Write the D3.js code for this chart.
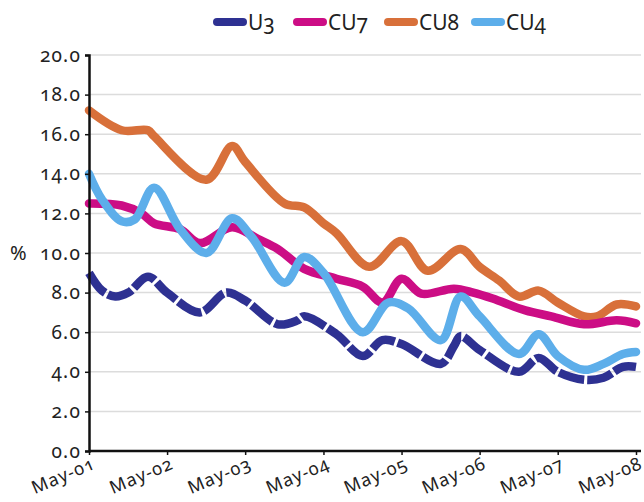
<!DOCTYPE html>
<html>
<head>
<meta charset="utf-8">
<script src="https://cdn.jsdelivr.net/npm/d3@7"></script>
<style>
body { margin: 0; background: #fff; }
text { font-family: "Noto Sans", "Open Sans", sans-serif; fill: #222; font-feature-settings: "onum"; }
</style>
</head>
<body>
<svg width="644" height="502"></svg>
<script>
var u3Dates = ["2001-05","2001-07","2001-09","2001-11","2002-02","2002-05","2002-10","2003-02","2003-05","2003-10","2004-01","2004-02","2004-07","2004-11","2005-02","2005-05","2005-11","2006-01","2006-02","2006-05","2006-11","2007-02","2007-05","2007-09","2007-12","2008-03","2008-05"];
var u3Values = [9.0,8.1,7.8,8.0,8.8,8.0,7.0,8.0,7.6,6.4,6.6,6.8,5.9,4.8,5.6,5.4,4.4,5.3,5.8,5.1,4.0,4.7,4.0,3.6,3.7,4.25,4.25];

var cu7Dates = ["2001-05","2001-10","2002-01","2002-03","2002-07","2002-10","2003-03","2003-07","2003-10","2004-02","2004-07","2004-11","2005-02","2005-05","2005-08","2006-01","2006-04","2006-07","2006-12","2007-04","2007-09","2008-02","2008-05"];
var cu7Values = [12.5,12.4,12.0,11.5,11.2,10.5,11.3,10.7,10.2,9.2,8.7,8.3,7.5,8.7,7.95,8.2,8.0,7.7,7.1,6.8,6.4,6.6,6.45];

var cu8Dates = ["2001-05","2001-10","2002-02","2002-03","2002-11","2003-03","2003-05","2003-11","2004-02","2004-05","2004-07","2004-12","2005-05","2005-09","2006-02","2006-05","2006-08","2006-11","2007-02","2007-05","2007-09","2007-11","2008-02","2008-05"];
var cu8Values = [17.2,16.2,16.2,15.9,13.7,15.4,14.6,12.5,12.3,11.5,11.0,9.3,10.6,9.1,10.2,9.3,8.6,7.8,8.1,7.5,6.8,6.8,7.4,7.3];

var cu4Dates = ["2001-05","2001-07","2001-10","2001-12","2002-03","2002-07","2002-11","2003-03","2003-06","2003-11","2004-02","2004-05","2004-11","2005-03","2005-06","2005-11","2006-02","2006-05","2006-11","2007-02","2007-05","2007-09","2007-12","2008-03","2008-05"];
var cu4Values = [14.0,12.7,11.6,11.7,13.3,11.2,10.0,11.75,10.8,8.5,9.8,9.0,6.0,7.5,7.2,5.6,7.8,6.8,4.9,5.9,4.8,4.1,4.4,4.9,5.0];

var seriesNames = ["U3","CU7","CU8","CU4"];
var seriesColors = ["#2e3192","#cc0d85","#d8703a","#5daeea"];
var yTicks = [0,2,4,6,8,10,12,14,16,18,20];
var xTickLabels = ["May-01","May-02","May-03","May-04","May-05","May-06","May-07","May-08"];

var svg = d3.select("svg"),
	width = +svg.attr("width"),
	height = +svg.attr("height");

var parseMonth = d3.timeParse("%Y-%m");

var x = d3.scaleTime()
	.domain([parseMonth("2001-05"), parseMonth("2008-05")])
	.range([89, 636]);

var y = d3.scaleLinear()
	.domain([0, 20])
	.range([451, 55]);

function makeSeries(dates, values) {
	return dates.map(function(d, i) { return {date: parseMonth(d), value: values[i]}; });
}

var series = [
	makeSeries(u3Dates, u3Values),
	makeSeries(cu7Dates, cu7Values),
	makeSeries(cu8Dates, cu8Values),
	makeSeries(cu4Dates, cu4Values)
];

// grid
svg.append("g")
	.selectAll("line")
	.data(yTicks.slice(1))
	.enter().append("line")
	.attr("x1", x.range()[0])
	.attr("x2", 641)
	.attr("y1", function(d) { return y(d); })
	.attr("y2", function(d) { return y(d); })
	.attr("stroke", "#dcdcdc")
	.attr("stroke-width", 1.5);

var line = d3.line()
	.curve(d3.curveCatmullRom.alpha(0.5))
	.x(function(d) { return x(d.date); })
	.y(function(d) { return y(d.value); });

var drawOrder = [2, 1, 3, 0];

svg.append("g")
	.selectAll("path")
	.data(drawOrder)
	.enter().append("path")
	.attr("d", function(i) { return line(series[i]); })
	.attr("fill", "none")
	.attr("stroke", function(i) { return seriesColors[i]; })
	.attr("stroke-width", 8.5)
	.attr("stroke-linejoin", "round")
	.attr("stroke-linecap", function(i) { return i == 0 ? "butt" : "round"; })
	.attr("stroke-dasharray", function(i) { return i == 0 ? "26,3" : null; });

// axes
var yAxis = d3.axisLeft(y)
	.tickValues(yTicks)
	.tickFormat(d3.format(".1f"))
	.tickSize(4)
	.tickPadding(4);

var gy = svg.append("g")
	.attr("transform", "translate(" + x.range()[0] + ",0)")
	.call(yAxis);

gy.select(".domain").attr("stroke", "#111").attr("stroke-width", 2.5);
gy.selectAll(".tick line").attr("stroke", "#111").attr("stroke-width", 1.5);
gy.selectAll(".tick text")
	.style("font-size", "19px")
	.style("letter-spacing", "1.2px")
	.attr("fill", "#222");

var xAxis = d3.axisBottom(x)
	.tickValues(xTickLabels.map(function(d, i) { return parseMonth((2001 + i) + "-05"); }))
	.tickFormat(function(d, i) { return xTickLabels[i]; })
	.tickSize(4)
	.tickSizeOuter(0);

var gx = svg.append("g")
	.attr("transform", "translate(0," + y(0) + ")")
	.call(xAxis);

gx.select(".domain").attr("stroke", "#111").attr("stroke-width", 2.5)
	.attr("d", "M" + x.range()[0] + ",0H641");
gx.selectAll(".tick line").attr("stroke", "#111").attr("stroke-width", 1.5);
gx.selectAll(".tick text")
	.style("font-size", "18px")
	.style("letter-spacing", "1px")
	.attr("text-anchor", "end")
	.attr("dy", null)
	.attr("y", 0)
	.attr("transform", "translate(7,17) rotate(-23)");

svg.append("text")
	.attr("x", 10)
	.attr("y", y(10) + 7)
	.style("font-size", "20px")
	.text("%");

// legend
var legendX = [213, 293, 384, 471];

var legend = svg.append("g")
	.selectAll("g")
	.data(seriesNames)
	.enter().append("g")
	.attr("transform", function(d, i) { return "translate(" + legendX[i] + ",22)"; });

legend.append("line")
	.attr("x1", 4)
	.attr("x2", 30)
	.attr("stroke", function(d, i) { return seriesColors[i]; })
	.attr("stroke-width", 8)
	.attr("stroke-linecap", "round");

legend.append("text")
	.attr("x", 35)
	.attr("y", 8)
	.style("font-size", "21px")
	.text(function(d) { return d; });
</script>
</body>
</html>
